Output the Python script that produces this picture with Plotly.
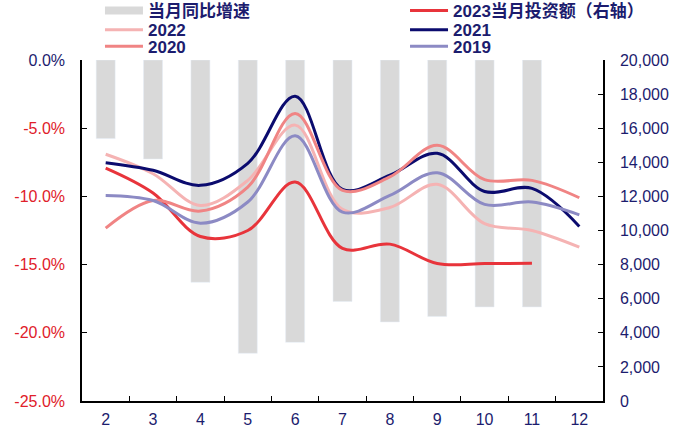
import plotly.graph_objects as go

months = ["2", "3", "4", "5", "6", "7", "8", "9", "10", "11", "12"]
yoy = [-0.0576, -0.0726, -0.163, -0.215, -0.207, -0.177, -0.192, -0.188, -0.181, -0.181, None]
inv_2023 = [13660, 12200, 9650, 10000, 12840, 8950, 9200, 8060, 8060, 8080, None]
inv_2022 = [14470, 13330, 11470, 12940, 16180, 11240, 11350, 12710, 10410, 10000, 9020]
inv_2021 = [13980, 13530, 12650, 13940, 17880, 12410, 13240, 14530, 12290, 12470, 10240]
inv_2020 = [10140, 11760, 11140, 12550, 16860, 12350, 13140, 15000, 12980, 12940, 11920]
inv_2019 = [12060, 11760, 10430, 11670, 15550, 11080, 12060, 13390, 11530, 11670, 10920]

left_ticks = [0, -0.05, -0.10, -0.15, -0.20, -0.25]
left_text = ["0.0%", "-5.0%", "-10.0%", "-15.0%", "-20.0%", "-25.0%"]
navy = "#1c1c6e"
red_txt = "#e0202a"
left_ticktext = [
    f'<span style="color:{navy}">{t}</span>' if v == 0 else f'<span style="color:{red_txt}">{t}</span>'
    for v, t in zip(left_ticks, left_text)
]

bar_color = "#d9d9d9"
fig = go.Figure()
fig.add_trace(go.Bar(x=months, y=yoy, name="当月同比增速", marker_color=bar_color,
                     width=0.4, yaxis="y", showlegend=False))
# legend swatch for the bar series
fig.add_trace(go.Scatter(x=[None], y=[None], name="当月同比增速", mode="lines",
                         line=dict(color=bar_color, width=8), legend="legend",
                         hoverinfo="skip"))
line_specs = [
    ("2023当月投资额（右轴）", inv_2023, "#e8343b", "legend2"),
    ("2022", inv_2022, "#f5b3b3", "legend3"),
    ("2021", inv_2021, "#0b0b6e", "legend4"),
    ("2020", inv_2020, "#f08484", "legend5"),
    ("2019", inv_2019, "#8c8ac4", "legend6"),
]
for name, vals, col, lg in line_specs:
    fig.add_trace(go.Scatter(x=months, y=vals, name=name, yaxis="y2", mode="lines",
                             legend=lg,
                             line=dict(color=col, width=3, shape="spline", smoothing=1.0)))

font_fam = "Liberation Sans, Arial, Noto Sans CJK SC, sans-serif"
leg_font = dict(family=font_fam, size=17, color=navy, weight="bold")

col_x = [0.0345, 0.620]
row_y = [1.1437, 1.0871, 1.0390]


def leg(col, row):
    return dict(orientation="h", x=col_x[col], xanchor="left", y=row_y[row], yanchor="middle",
                font=leg_font, itemwidth=38, bgcolor="rgba(0,0,0,0)")


fig.update_layout(
    width=686, height=427,
    margin=dict(l=82, r=83, t=60, b=26, autoexpand=False),
    paper_bgcolor="white", plot_bgcolor="white",
    font=dict(family=font_fam, size=16, color=navy),
    showlegend=True,
    legend=leg(0, 0), legend2=leg(1, 0),
    legend3=leg(0, 1), legend4=leg(1, 1),
    legend5=leg(0, 2), legend6=leg(1, 2),
    xaxis=dict(type="category", showline=True, linecolor="black", linewidth=1.5,
               ticks="inside", tickson="boundaries", ticklen=5, tickcolor="black",
               showgrid=False, tickfont=dict(size=16, color=navy), ticklabelstandoff=3),
    yaxis=dict(range=[-0.25, 0], tickvals=left_ticks, ticktext=left_ticktext,
               showline=True, linecolor="black", linewidth=1.5, ticks="inside",
               ticklen=5, tickcolor="black", showgrid=False, zeroline=False,
               tickfont=dict(size=16), ticklabelstandoff=12),
    yaxis2=dict(range=[0, 20000], dtick=2000, tickformat=",", overlaying="y", side="right",
                showline=True, linecolor="black", linewidth=1.5, ticks="inside",
                ticklen=5, tickcolor="black", showgrid=False, zeroline=False,
                tickfont=dict(size=16, color=navy), ticklabelstandoff=12),
)
fig.write_html("out.html")
